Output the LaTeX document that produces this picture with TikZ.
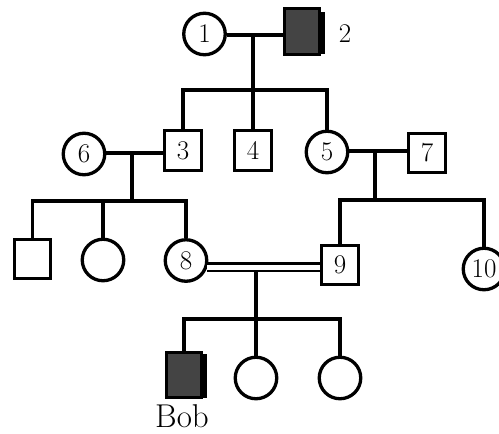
\documentclass[tikz,border=0pt]{standalone}
\usepackage{fontspec}
\usetikzlibrary{calc}
\definecolor{affgray}{HTML}{444444}
\newcommand{\numfnt}{\fontsize{27}{31}\selectfont}
\newcommand{\bobfnt}{\fontsize{33}{37}\selectfont}
\tikzset{
  fem/.style={circle, draw, line width=3.3pt, minimum size=41.5pt, inner sep=0pt, font=\numfnt},
  mal/.style={rectangle, draw, line width=3.3pt, minimum width=36.5pt, minimum height=39.5pt, inner sep=0pt, font=\numfnt},
  aff/.style={mal, fill=affgray, minimum width=35.5pt, minimum height=45.5pt},
  ln/.style={line width=3.3pt},
  dbl/.style={double, line width=2.8pt, double distance=5pt},
  lbl/.style={inner sep=0pt, font=\numfnt}
}
\begin{document}
\begin{tikzpicture}[x=1pt, y=-1pt]
\useasboundingbox (0,0) rectangle (499,434);
% generation I
\node[fem] (n1) at (204.5,34) {1};
\node[aff] (n2) at (302,31.5) {};
\fill[black] ($(n2.north east)+(-1.5,5)$) rectangle ($(n2.south east)+(4,-1.5)$);
\node[lbl] (l2) at (345,34) {2};
% generation II
\node[mal] (n3) at (183,150.5) {3};
\node[mal] (n4) at (253,150.5) {4};
\node[fem] (n5) at (327,152) {5};
\node[fem] (n6) at (84,154) {6};
\node[mal] (n7) at (427,153) {7};
% generation III
\node[mal] (a1) at (32.5,259) {};
\node[fem] (a2) at (103,260) {};
\node[fem] (n8) at (186,260.5) {8};
\node[mal] (n9) at (340,265) {9};
\node[fem] (n10) at (484,269) {10};
% generation IV
\node[aff] (bob) at (184,375) {};
\fill[black] ($(bob.north east)+(-1.5,3)$) rectangle ($(bob.south east)+(3.5,-1.5)$);
\node[fem] (c1) at (256,378) {};
\node[fem] (c2) at (340,378) {};
\node[inner sep=0pt, font=\bobfnt, anchor=base] (boblbl) at (182,427) {Bob};
% junctions
\coordinate (j12) at (253,35);
\coordinate (b1) at (0,90);
\coordinate (j63) at (132,153);
\coordinate (b2) at (0,201);
\coordinate (j57) at (375,151);
\coordinate (b3) at (0,200);
\coordinate (j89) at (256,268);
\coordinate (b4) at (0,319);
% connectors
\draw[ln] (n1.east |- j12) -- (j12 -| n2.west);
\draw[ln] (j12) -- (j12 |- b1);
\draw[ln] (n3.north) -- (n3.north |- b1) -- (n5.north |- b1) -- (n5.north);
\draw[ln] (n4.north) -- (n4.north |- b1);
\draw[ln] (n6.east |- j63) -- (j63 -| n3.west);
\draw[ln] (j63) -- (j63 |- b2);
\draw[ln] (a1.north) -- (a1.north |- b2) -- (n8.north |- b2) -- (n8.north);
\draw[ln] (a2.north) -- (a2.north |- b2);
\draw[ln] (n5.east |- j57) -- (j57 -| n7.west);
\draw[ln] (j57) -- (j57 |- b3);
\draw[ln] (n9.north) -- (n9.north |- b3) -- (n10.north |- b3) -- (n10.north);
\draw[ln] (j89) -- (j89 |- b4);
\draw[dbl] (n8.-17) -- (n8.-17 -| n9.west);
\draw[ln] (bob.north) -- (bob.north |- b4) -- (c2.north |- b4) -- (c2.north);
\draw[ln] (c1.north) -- (c1.north |- b4);
\end{tikzpicture}
\end{document}
